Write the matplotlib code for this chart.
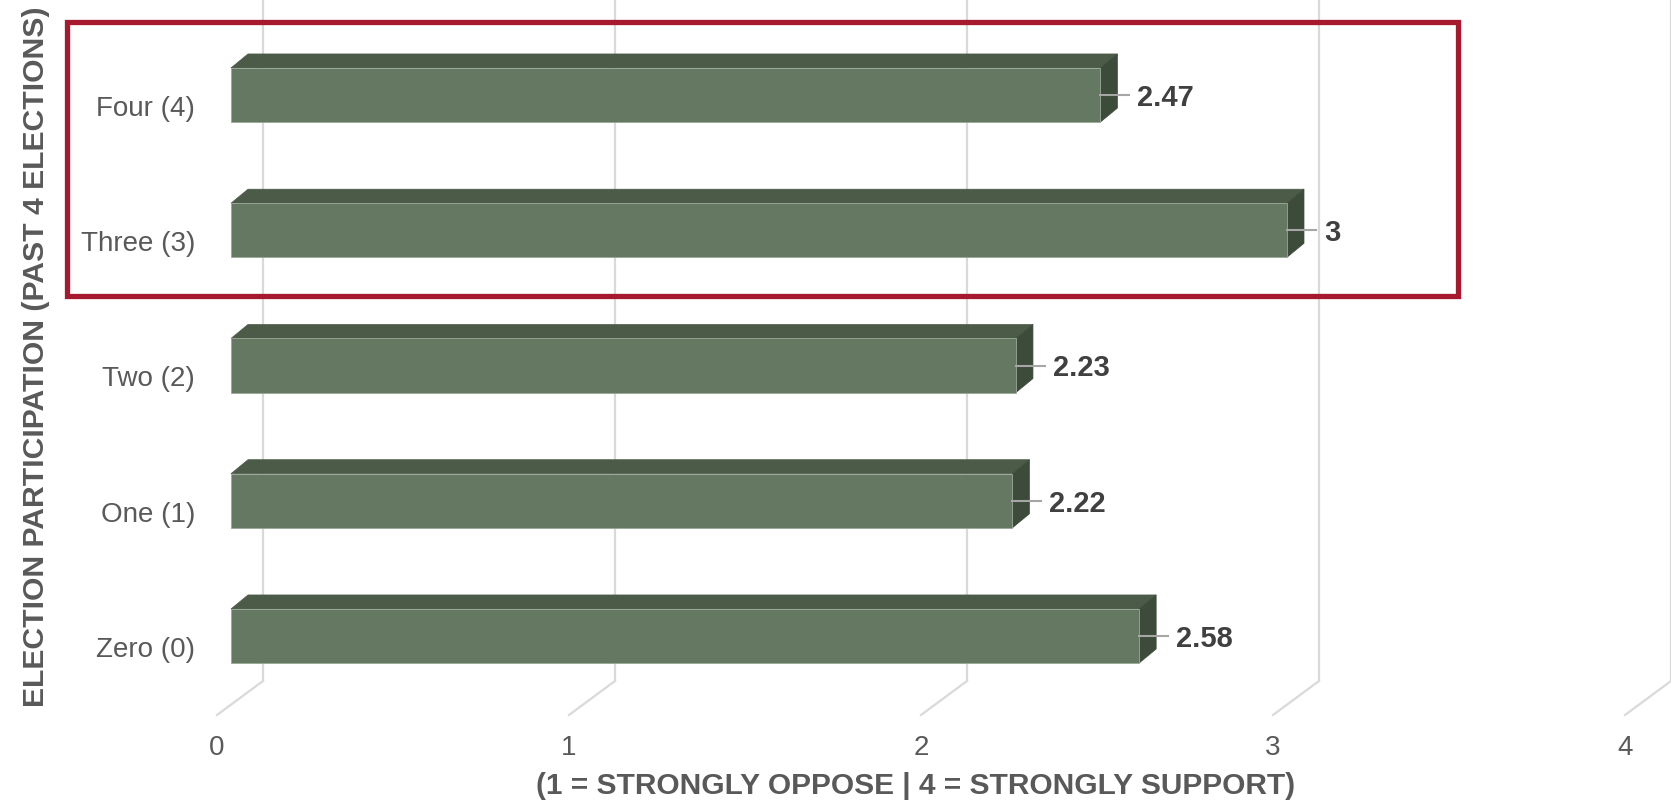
import matplotlib
matplotlib.use("Agg")
import matplotlib.pyplot as plt
from matplotlib.patches import Polygon, Rectangle

categories = ['Zero (0)', 'One (1)', 'Two (2)', 'Three (3)', 'Four (4)']
values = [2.58, 2.22, 2.23, 3, 2.47]
x_ticks = [0, 1, 2, 3, 4]
x_ticklabels = ['0', '1', '2', '3', '4']
y_title = 'ELECTION PARTICIPATION (PAST 4 ELECTIONS)'
x_title = '(1 = STRONGLY OPPOSE | 4 = STRONGLY SUPPORT)'

plt.rcParams['font.family'] = ['Liberation Sans', 'DejaVu Sans']

W, H = 1671, 803
fig = plt.figure(figsize=(W / 100, H / 100), dpi=100)
ax = fig.add_axes([0, 0, 1, 1])
ax.set_axis_off()

# pixel mapping helpers (front plane of bars)
px0, pxu = 231.0, 352.0
py0, pyu = 637.0, 135.25
ax.set_xlim(-px0 / pxu, (W - px0) / pxu)
ax.set_ylim((py0 - H) / pyu, py0 / pyu)

# 3D geometry (data units)
bar_h = 0.40
bdx, bdy = 17 / pxu, 14 / pyu          # bar depth
back_dx, back_y = 32 / pxu, (py0 - 682) / pyu
front_dx, front_y = -14 / pxu, (py0 - 716) / pyu
ytop = py0 / pyu

grid_c = '#d9d9d9'
for t in x_ticks:
    ax.plot([t + back_dx, t + back_dx], [back_y, ytop], color=grid_c, lw=1.6, zorder=1, solid_capstyle='butt')
    ax.plot([t + back_dx, t + front_dx], [back_y, front_y], color=grid_c, lw=1.6, zorder=1)

front_c = '#647862'
top_c = '#4b5b48'
side_c = '#3c4b3a'
for i, (cat, v) in enumerate(zip(categories, values)):
    y0, y1 = i - bar_h / 2, i + bar_h / 2
    ax.add_patch(Polygon([(0, y1), (v, y1), (v + bdx, y1 + bdy), (bdx, y1 + bdy)],
                         closed=True, facecolor=top_c, edgecolor=top_c, lw=0.5, zorder=3))
    ax.add_patch(Polygon([(v, y0), (v + bdx, y0 + bdy), (v + bdx, y1 + bdy), (v, y1)],
                         closed=True, facecolor=side_c, edgecolor=side_c, lw=0.5, zorder=3))
    ax.add_patch(Rectangle((0, y0), v, bar_h, facecolor=front_c, edgecolor='#9aa898', lw=0.6, zorder=4))
    # leader line and value label
    ax.plot([v, v + 29 / pxu], [i, i], color='#a6a6a6', lw=1.5, zorder=5)
    ax.text(v + 37 / pxu, i - 2 / pyu, f'{v:g}', ha='left', va='center', fontsize=21,
            fontweight='bold', color='#404040', zorder=6)
    # category label
    ax.text(-36 / pxu, i - 13 / pyu, cat, ha='right', va='center', fontsize=20,
            color='#595959', zorder=6)

for t, lab in zip(x_ticks, x_ticklabels):
    ax.text(t + front_dx, (py0 - 748) / pyu, lab, ha='center', va='center',
            fontsize=20, color='#595959')

# highlight box around top two categories
bx0, bx1 = (67 - px0) / pxu, (1458 - px0) / pxu
by0, by1 = (py0 - 297) / pyu, (py0 - 23) / pyu
ax.add_patch(Rectangle((bx0, by0), bx1 - bx0, by1 - by0, fill=False,
                       edgecolor='#a6192e', lw=3.8, zorder=7))

fig.text(916 / W, 1 - 786 / H, x_title, ha='center', va='center', fontsize=21.5,
         fontweight='bold', color='#595959')
fig.text(36 / W, 1 - 357 / H, y_title, ha='center', va='center', rotation=90,
         fontsize=21.7, fontweight='bold', color='#595959')

fig.savefig('out.png', dpi=100)
